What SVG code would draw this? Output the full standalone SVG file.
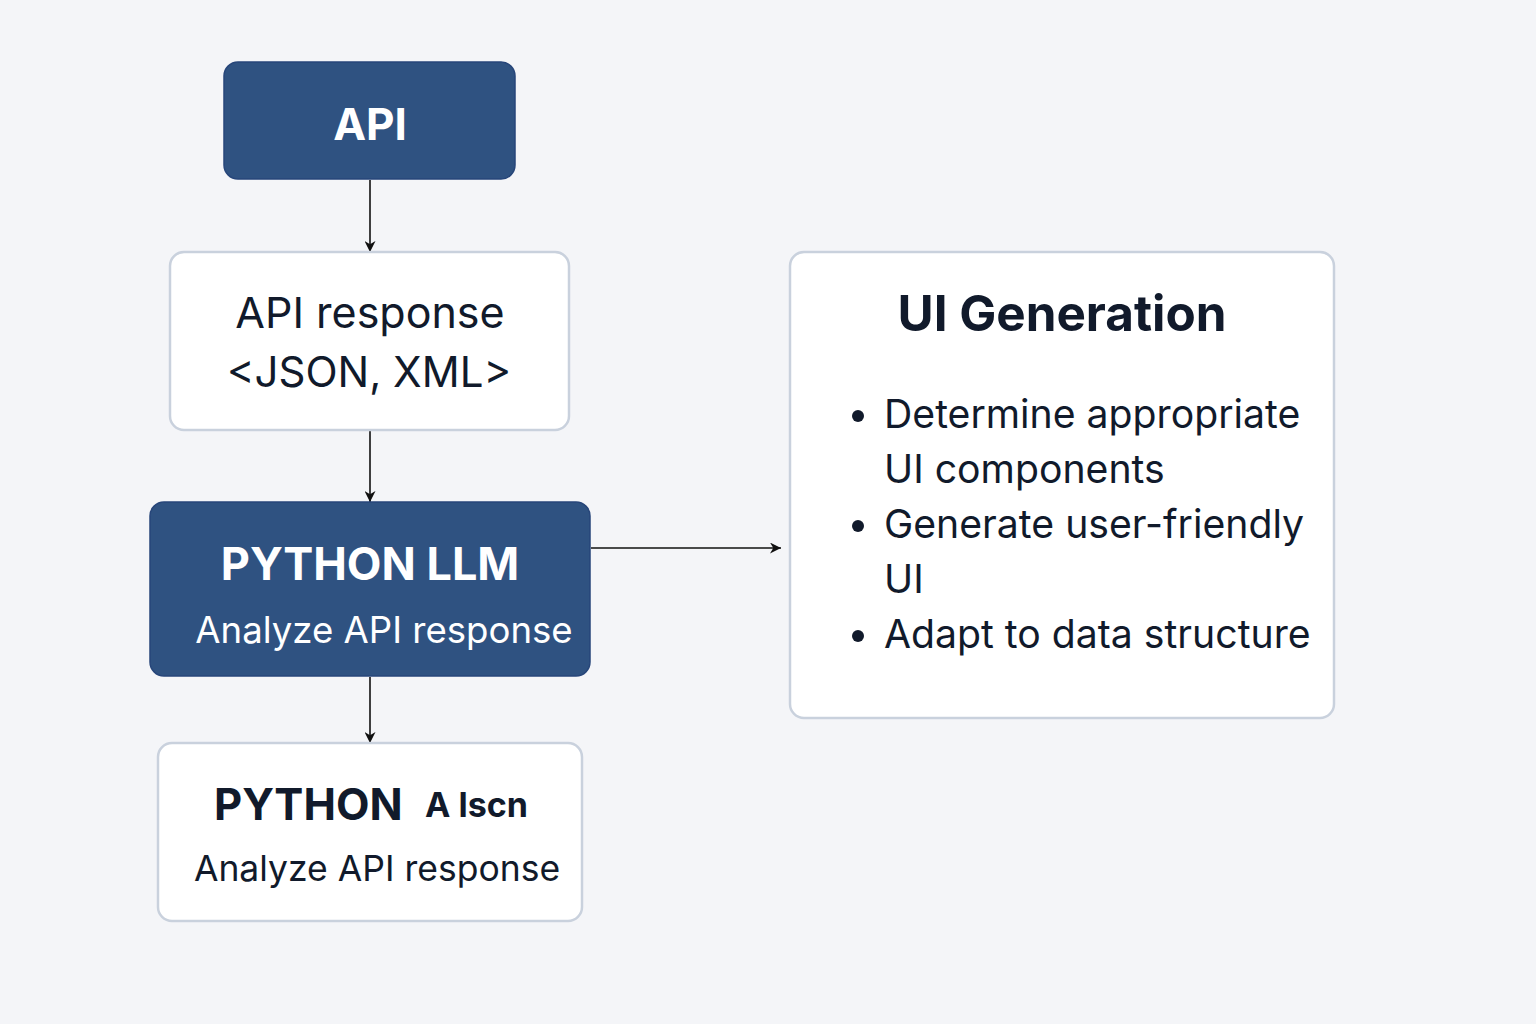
<svg xmlns="http://www.w3.org/2000/svg" width="1536" height="1024" viewBox="0 0 1536 1024">
<style>
.dark{fill:#2f5281;stroke:#27467a;stroke-width:1.5}
.light{fill:#ffffff;stroke:#c9d1dd;stroke-width:2.5}
.t{font-family:Inter,"Noto Sans","Liberation Sans",sans-serif}
.w{fill:#ffffff}
.k{fill:#111a2b}
.b{font-weight:700}
.conn{stroke:#111111;stroke-width:1.6;fill:none}
</style>
<defs>
<marker id="ah" viewBox="0 0 10 10" refX="10" refY="5" markerWidth="11" markerHeight="11" markerUnits="userSpaceOnUse" orient="auto">
<path d="M0,0 L10,5 L0,10 L3,5 Z" fill="#111111"/>
</marker>
</defs>
<rect width="1536" height="1024" fill="#f4f5f8"/>
<g id="connectors">
<line class="conn" x1="370" y1="180" x2="370" y2="252" marker-end="url(#ah)"/>
<line class="conn" x1="370" y1="431" x2="370" y2="502" marker-end="url(#ah)"/>
<line class="conn" x1="370" y1="677" x2="370" y2="743" marker-end="url(#ah)"/>
<line class="conn" x1="591" y1="548" x2="781" y2="548" marker-end="url(#ah)"/>
</g>
<g id="node-api">
<rect class="dark" x="224" y="62" width="291" height="117" rx="14"/>
<text class="t w b" x="370" y="140" font-size="44" text-anchor="middle">API</text>
</g>
<g id="node-api-response">
<rect class="light" x="170" y="252" width="399" height="178" rx="14"/>
<text class="t k" x="370" y="328" font-size="43" text-anchor="middle">API response</text>
<text class="t k" x="369" y="387" font-size="42" text-anchor="middle">&lt;JSON, XML&gt;</text>
</g>
<g id="node-python-llm">
<rect class="dark" x="150" y="502" width="440" height="174" rx="14"/>
<text class="t w b" x="370" y="580" font-size="45" text-anchor="middle">PYTHON LLM</text>
<text class="t w" x="384" y="643" font-size="36.6" text-anchor="middle">Analyze API response</text>
</g>
<g id="node-python-alscn">
<rect class="light" x="158" y="743" width="424" height="178" rx="14"/>
<text class="t k b" x="214" y="820" font-size="43.5">PYTHON</text>
<text class="t k b" x="425" y="817" font-size="34">A lscn</text>
<text class="t k" x="377" y="881" font-size="35.5" text-anchor="middle">Analyze API response</text>
</g>
<g id="node-ui-generation">
<rect class="light" x="790" y="252" width="544" height="466" rx="14"/>
<text class="t k b" x="1062" y="331" font-size="49.4" text-anchor="middle">UI Generation</text>
<circle class="k" cx="858" cy="416" r="6"/>
<circle class="k" cx="858" cy="526" r="6"/>
<circle class="k" cx="858" cy="636" r="6"/>
<text class="t k" x="884" y="428" font-size="39.2">Determine appropriate</text>
<text class="t k" x="884" y="483" font-size="39.2">UI components</text>
<text class="t k" x="884" y="538" font-size="39.2">Generate user-friendly</text>
<text class="t k" x="884" y="593" font-size="39.2">UI</text>
<text class="t k" x="884" y="648" font-size="39.2">Adapt to data structure</text>
</g>
</svg>
